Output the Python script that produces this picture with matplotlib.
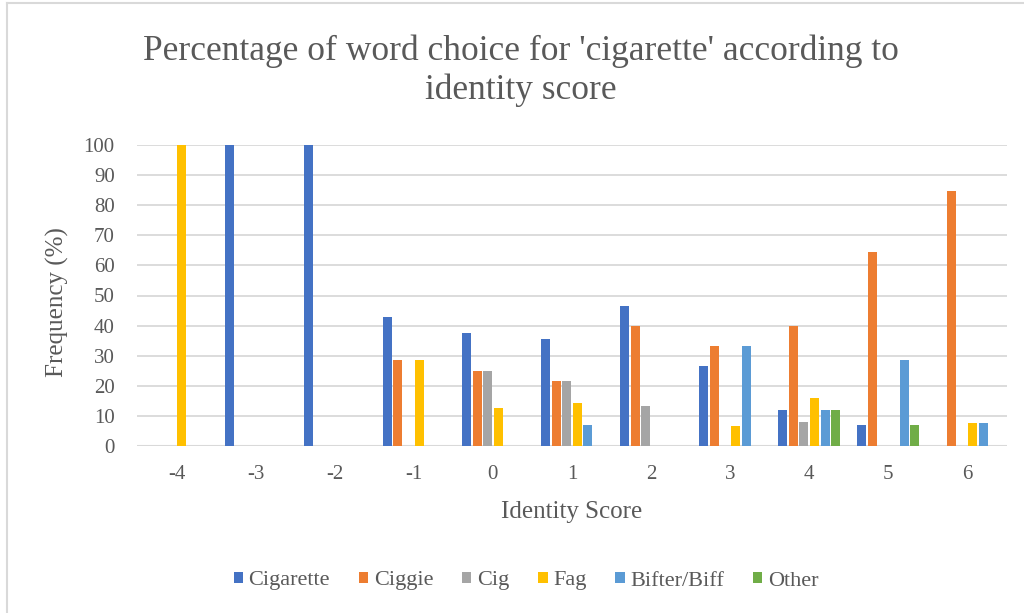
import numpy as np
import matplotlib.pyplot as plt
from matplotlib.lines import Line2D

# Identity score categories and percentage of each word choice
scores = [-4, -3, -2, -1, 0, 1, 2, 3, 4, 5, 6]
series_names = ["Cigarette", "Ciggie", "Cig", "Fag", "Bifter/Biff", "Other"]
cigarette = [0, 100, 100, 42.86, 37.5, 35.71, 46.67, 26.67, 12, 7.14, 0]
ciggie = [0, 0, 0, 28.57, 25, 21.43, 40, 33.33, 40, 64.29, 84.62]
cig = [0, 0, 0, 0, 25, 21.43, 13.33, 0, 8, 0, 0]
fag = [100, 0, 0, 28.57, 12.5, 14.29, 0, 6.67, 16, 0, 7.69]
bifter = [0, 0, 0, 0, 0, 7.14, 0, 33.33, 12, 28.57, 7.69]
other = [0, 0, 0, 0, 0, 0, 0, 0, 12, 7.14, 0]

colors = ["#4472C4", "#ED7D31", "#A5A5A5", "#FFC000", "#5B9BD5", "#70AD47"]
text_color = "#595959"
grid_color = "#D9D9D9"

plt.rcParams["font.family"] = ["Liberation Serif", "DejaVu Serif"]

W, H = 1024, 613
fig = plt.figure(figsize=(W / 100, H / 100), dpi=100)
ax = fig.add_axes([137 / W, 1 - 446 / H, (1007 - 137) / W, (446 - 145) / H])

values = [cigarette, ciggie, cig, fag, bifter, other]
x = np.arange(len(scores))
step = 0.134
bw = 0.114
offsets = (np.arange(len(values)) - (len(values) - 1) / 2) * step
handles = []
for vals, name, col, off in zip(values, series_names, colors, offsets):
    bars = ax.bar(x + off, vals, width=bw, color=col, label=name, zorder=3)
    handles.append(bars)

ax.set_xlim(-0.5, len(scores) - 0.5)
ax.set_ylim(0, 100)
ax.set_yticks(np.arange(0, 101, 10))
ax.set_xticks(x)
ax.set_xticklabels([str(s) for s in scores])

for s in ax.spines.values():
    s.set_visible(False)
ax.yaxis.grid(True, color=grid_color, linewidth=1.3, zorder=0)
ax.axhline(0, color=grid_color, linewidth=1.5, zorder=2)
ax.tick_params(axis="both", length=0, labelsize=15, labelcolor=text_color)
ax.tick_params(axis="x", pad=14)
ax.tick_params(axis="y", pad=16)

# Title, axis titles
fig.text(521 / W, 1 - 60 / H, "Percentage of word choice for 'cigarette' according to",
         ha="center", va="baseline", fontsize=25.5, color=text_color)
fig.text(521 / W, 1 - 99 / H, "identity score",
         ha="center", va="baseline", fontsize=25.5, color=text_color)
fig.text(572 / W, 1 - 518 / H, "Identity Score", ha="center", va="baseline",
         fontsize=18, color=text_color)
fig.text(57 / W, 1 - 302 / H, "Frequency (%)", ha="center", va="center",
         rotation=90, fontsize=18, color=text_color)

leg = fig.legend(handles=handles, labels=series_names, loc="center",
                 bbox_to_anchor=(526 / W, 1 - 581 / H), ncol=6, frameon=False,
                 fontsize=16, handlelength=0.42, handleheight=0.42,
                 handletextpad=0.25, columnspacing=1.3, borderpad=0)
for t in leg.get_texts():
    t.set_color(text_color)

# Chart area border (left and top edges)
fig.add_artist(Line2D([7 / W, 7 / W], [0, 1 - 3 / H], transform=fig.transFigure,
                      color=grid_color, linewidth=1.5))
fig.add_artist(Line2D([7 / W, 1], [1 - 3 / H, 1 - 3 / H], transform=fig.transFigure,
                      color=grid_color, linewidth=1.5))

fig.savefig("out.png", dpi=100, facecolor="white")
